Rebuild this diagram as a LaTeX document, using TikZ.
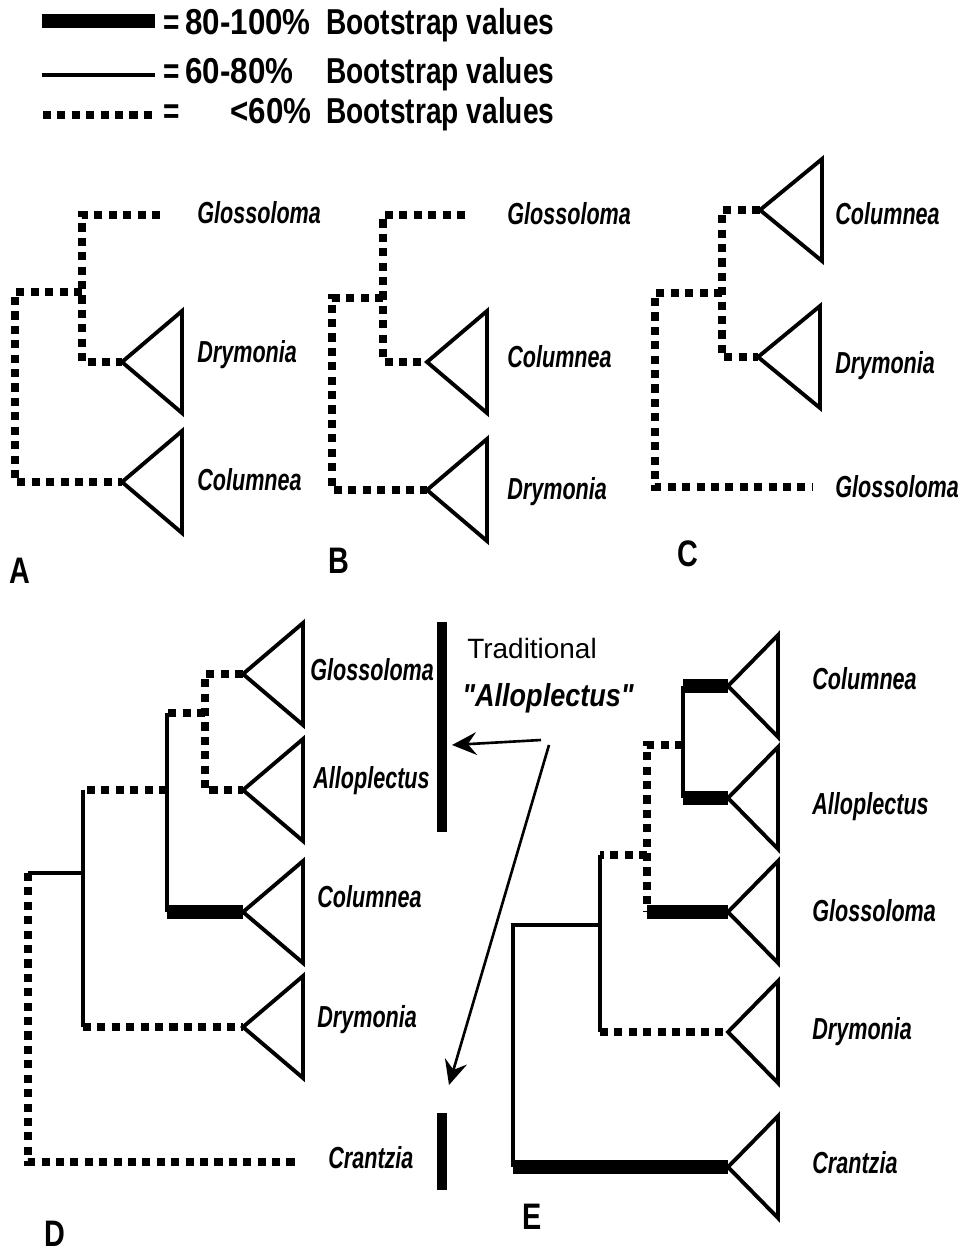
\documentclass[tikz,border=0pt]{standalone}
\usepackage{fontspec}
\setmainfont{Liberation Sans}
\newfontfamily\keyfont[FakeStretch=0.78]{Liberation Sans}
\newfontfamily\pctfont[FakeStretch=0.87]{Liberation Sans}
\newfontfamily\taxfont[FakeStretch=0.71]{Liberation Sans}
\newfontfamily\quotefont[FakeStretch=0.85]{Liberation Sans}
\usetikzlibrary{arrows.meta}

\tikzset{
  low/.style={line width=4.2pt, dash pattern=on 4.6pt off 3.6pt},
  mid/.style={line width=2pt},
  high/.style={line width=7.6pt},
  tri/.style={line width=2.2pt, line join=miter},
  taxon/.style={anchor=west, inner sep=0pt, text height=12.4pt, text depth=0pt,
    font=\taxfont\bfseries\itshape\fontsize{17.3}{20}\selectfont},
  key/.style={anchor=west, inner sep=0pt, text height=14.6pt, text depth=0pt,
    font=\keyfont\bfseries\fontsize{20.5}{24}\selectfont},
  pct/.style={key, font=\pctfont\bfseries\fontsize{20.5}{24}\selectfont},
  panel/.style={inner sep=0pt, text height=15pt, text depth=0pt,
    font=\keyfont\bfseries\fontsize{21}{24}\selectfont},
  pointer/.style={line width=1.5pt, -{Stealth[length=14pt, width=13pt, inset=5pt]}},
}
\newcommand\clade[2][60]{\draw[tri] (#2) -- ++(#1,-51) -- ++(0,102) -- cycle;}

\begin{document}
\begin{tikzpicture}[x=0.02cm, y=-0.02cm]
\useasboundingbox (0,0) rectangle (962,1253);

% legend
\coordinate (keyHi) at (42,21);
\coordinate (keyMid) at (42,75);
\coordinate (keyLow) at (43,115);
\draw[high] (keyHi) -- ++(113,0);
\draw[mid] (keyMid) -- ++(113,0);
\draw[low] (keyLow) -- ++(112,0);
\node[key] (eqHi) at (163,22) {=};
\node[pct] (pcHi) at (185,22) {80-100\%};
\node[key] (bsHi) at (326,22) {Bootstrap values};
\node[key] (eqMid) at (163,71) {=};
\node[pct] (pcMid) at (185,71) {60-80\%};
\node[key] (bsMid) at (326,71) {Bootstrap values};
\node[key] (eqLow) at (163,111) {=};
\node[pct] (pcLow) at (230,111) {<60\%};
\node[key] (bsLow) at (326,111) {Bootstrap values};

% A
\coordinate (aRoot) at (15,292);
\coordinate (aIn) at (82,292);
\coordinate (aGlo) at (160,215);
\coordinate (aDry) at (122,362);
\coordinate (aCol) at (122,482);
\draw[low] (aGlo) -| (aIn) |- (aDry);
\draw[low] (aIn) -- (aRoot) |- (aCol);
\clade{aDry}
\clade{aCol}
\node[taxon] (aGloL) at (197,213) {Glossoloma};
\node[taxon] (aDryL) at (197,352) {Drymonia};
\node[taxon] (aColL) at (197,480) {Columnea};
\node[panel] (aTag) at (20,570) {A};

% B
\coordinate (bRoot) at (332,298);
\coordinate (bIn) at (383,298);
\coordinate (bGlo) at (465,215);
\coordinate (bCol) at (427,362);
\coordinate (bDry) at (427,490);
\draw[low] (bGlo) -| (bIn) |- (bCol);
\draw[low] (bIn) -- (bRoot) |- (bDry);
\clade{bCol}
\clade{bDry}
\node[taxon] (bGloL) at (507,214) {Glossoloma};
\node[taxon] (bColL) at (507,357) {Columnea};
\node[taxon] (bDryL) at (507,489) {Drymonia};
\node[panel] (bTag) at (339,560) {B};

% C
\coordinate (cRoot) at (655,293);
\coordinate (cIn) at (722,293);
\coordinate (cCol) at (760,210);
\coordinate (cDry) at (758,357);
\coordinate (cGlo) at (812,487);
\draw[low] (cCol) -| (cIn) |- (cDry);
\draw[low] (cIn) -- (cRoot) |- (cGlo);
\clade[62]{cCol}
\clade[62]{cDry}
\node[taxon] (cColL) at (835,214) {Columnea};
\node[taxon] (cDryL) at (835,363) {Drymonia};
\node[taxon] (cGloL) at (835,487) {Glossoloma};
\node[panel] (cTag) at (688,553) {C};

% D
\coordinate (dGlo) at (243,674);
\coordinate (dAll) at (243,790);
\coordinate (dCol) at (243,912);
\coordinate (dDry) at (243,1027);
\coordinate (dCra) at (300,1162);
\coordinate (dN1) at (205,713);
\coordinate (dN2) at (167,790);
\coordinate (dN3) at (83,873);
\coordinate (dRoot) at (28,873);
\draw[low] (dGlo) -| (dN1) |- (dAll);
\draw[low] (dN1) -- (dN1 -| dN2);
\draw[mid] (dN1 -| dN2) -- (dN2) -- (dCol -| dN2);
\draw[high] (dCol -| dN2) -- (dCol);
\draw[low] (dN2) -- (dN2 -| dN3);
\draw[mid] (dN2 -| dN3) -- (dN3) -- (dDry -| dN3);
\draw[low] (dDry -| dN3) -- (dDry);
\draw[mid] (dN3) -- (dRoot);
\draw[low] (dRoot) |- (dCra);
\clade{dGlo}
\clade{dAll}
\clade{dCol}
\clade{dDry}
\node[taxon] (dGloL) at (310,670) {Glossoloma};
\node[taxon] (dAllL) at (313,778) {Alloplectus};
\node[taxon] (dColL) at (317,897) {Columnea};
\node[taxon] (dDryL) at (317,1017) {Drymonia};
\node[taxon] (dCraL) at (328,1158) {Crantzia};
\node[panel] (dTag) at (55,1233) {D};

% traditional Alloplectus
\coordinate (grpTop) at (442,622);
\coordinate (grpBot) at (442,832);
\coordinate (craTop) at (442,1113);
\coordinate (craBot) at (442,1190);
\draw[line width=5.7pt] (grpTop) -- (grpBot);
\draw[line width=5.7pt] (craTop) -- (craBot);
\node[anchor=west, inner sep=0pt, text height=11.4pt, text depth=0pt,
  font=\fontsize{15.9}{18}\selectfont] (trad) at (467,648) {Traditional};
\node[anchor=west, inner sep=0pt, text height=13pt, text depth=0pt,
  font=\quotefont\bfseries\itshape\fontsize{18.1}{21}\selectfont] (tradName) at (462,695) {"Alloplectus"};
\coordinate (tradTail1) at (541,740);
\coordinate (tradHead1) at (452,745);
\coordinate (tradTail2) at (549,745);
\coordinate (tradHead2) at (449,1085);
\draw[pointer] (tradTail1) -- (tradHead1);
\draw[pointer] (tradTail2) -- (tradHead2);

% E
\coordinate (eCol) at (728,686);
\coordinate (eAll) at (728,798);
\coordinate (eGlo) at (728,912);
\coordinate (eDry) at (728,1032);
\coordinate (eCra) at (728,1167);
\coordinate (eN1) at (683,745);
\coordinate (eN2) at (647,855);
\coordinate (eN3) at (600,925);
\coordinate (eRoot) at (513,925);
\draw[high] (eCol) -- (eCol -| eN1);
\draw[mid] (eCol -| eN1) -- (eAll -| eN1);
\draw[high] (eAll -| eN1) -- (eAll);
\draw[low] (eN1) -- (eN1 -| eN2) -- (eGlo -| eN2);
\draw[high] (eGlo -| eN2) -- (eGlo);
\draw[low] (eN2) -- (eN2 -| eN3);
\draw[mid] (eN2 -| eN3) -- (eDry -| eN3);
\draw[low] (eDry -| eN3) -- (eDry);
\draw[mid] (eN3) -- (eRoot) -- (eCra -| eRoot);
\draw[high] (eCra -| eRoot) -- (eCra);
\clade[50]{eCol}
\clade[50]{eAll}
\clade[50]{eGlo}
\clade[50]{eDry}
\clade[50]{eCra}
\node[taxon] (eColL) at (812,679) {Columnea};
\node[taxon] (eAllL) at (812,804) {Alloplectus};
\node[taxon] (eGloL) at (812,911) {Glossoloma};
\node[taxon] (eDryL) at (812,1029) {Drymonia};
\node[taxon] (eCraL) at (812,1163) {Crantzia};
\node[panel] (eTag) at (532,1216) {E};
\end{tikzpicture}
\end{document}
